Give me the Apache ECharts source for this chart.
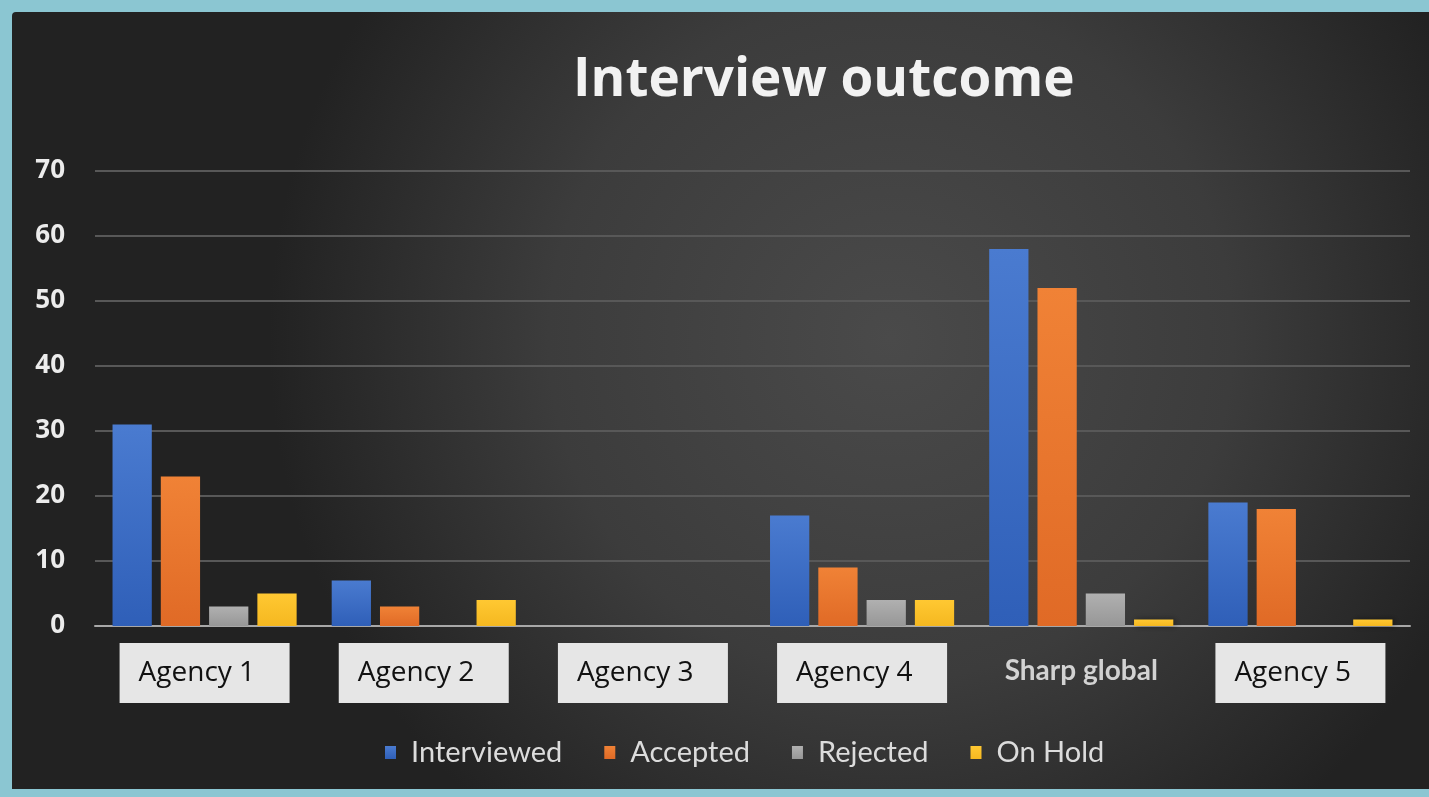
<!DOCTYPE html>
<html>
<head>
<meta charset="utf-8">
<title>Interview outcome</title>
<script src="https://cdn.jsdelivr.net/npm/echarts@6/dist/echarts.min.js"></script>
<style>
  html, body { margin: 0; padding: 0; background: #8bc6d2; }
  .frame {
    width: 1429px;
    height: 797px;
    box-sizing: border-box;
    border: 12px solid #8bc6d2;
    border-right-width: 0;
    border-bottom-width: 8px;
  }
  #chart { width: 1417px; height: 777px; border-radius: 4px 0 0 0; overflow: hidden; }
</style>
</head>
<body>
<div class="frame"><div id="chart"></div></div>
<script>
const categories = ['Agency 1', 'Agency 2', 'Agency 3', 'Agency 4', 'Sharp global', 'Agency 5']
const interviewed = [31, 7, 0, 17, 58, 19]
const accepted = [23, 3, 0, 9, 52, 18]
const rejected = [3, 0, 0, 4, 5, 0]
const onHold = [5, 4, 0, 4, 1, 1]
const yTicks = [0, 10, 20, 30, 40, 50, 60, 70]

const myChart = echarts.init(document.getElementById('chart'))

function barColor(top, bottom) {
  return new echarts.graphic.LinearGradient(0, 0, 0, 1, [
    { offset: 0, color: top },
    { offset: 1, color: bottom }
  ])
}

function makeSeries(name, data, top, bottom) {
  return {
    name: name,
    type: 'bar',
    data: data,
    barGap: '23%',
    barCategoryGap: '16%',
    itemStyle: {
      color: barColor(top, bottom),
      shadowBlur: 6,
      shadowOffsetX: 2,
      shadowColor: 'rgba(0, 0, 0, 0.45)'
    }
  }
}

const option = {
  backgroundColor: new echarts.graphic.RadialGradient(0.62, 0.42, 0.8, [
    { offset: 0, color: '#4a4a4a' },
    { offset: 0.55, color: '#3c3c3c' },
    { offset: 1, color: '#222222' }
  ]),
  title: {
    text: 'Interview outcome',
    left: 556,
    top: 37,
    textStyle: {
      fontFamily: 'Open Sans',
      fontWeight: 'bold',
      fontSize: 53,
      color: '#f2f2f2'
    }
  },
  legend: {
    top: 721,
    left: 368,
    itemWidth: 11,
    itemHeight: 13,
    itemGap: 42,
    icon: 'rect',
    textStyle: {
      fontFamily: 'Lato',
      fontSize: 29,
      color: '#dcdcdc',
      padding: [0, 0, 0, 10]
    },
    data: ['Interviewed', 'Accepted', 'Rejected', 'On Hold']
  },
  grid: {
    left: 83,
    right: 19,
    top: 159,
    bottom: 163,
    containLabel: false
  },
  xAxis: {
    type: 'category',
    data: categories,
    axisTick: { show: false },
    axisLine: { lineStyle: { color: '#a8a8a8', width: 2 } },
    axisLabel: {
      interval: 0,
      margin: 17,
      formatter(value) {
        if (value === 'Sharp global') {
          return '{plain|' + value + '}'
        }
        return '{box|' + value + '}'
      },
      rich: {
        box: {
          backgroundColor: '#e6e6e6',
          color: '#111',
          fontFamily: 'Open Sans',
          fontSize: 28,
          width: 131,
          height: 60,
          lineHeight: 60,
          padding: [0, 20, 0, 19],
          align: 'left'
        },
        plain: {
          color: '#d2d2d2',
          fontFamily: 'Lato',
          fontWeight: 'bold',
          fontSize: 28,
          height: 60,
          lineHeight: 56
        }
      }
    }
  },
  yAxis: {
    type: 'value',
    min: 0,
    max: yTicks[yTicks.length - 1],
    interval: 10,
    axisLine: { show: false },
    axisTick: { show: false },
    splitLine: { lineStyle: { color: '#585858', width: 2 } },
    axisLabel: {
      margin: 30,
      fontFamily: 'Open Sans',
      fontWeight: 'bold',
      fontSize: 26,
      color: '#ececec'
    }
  },
  series: [
    makeSeries('Interviewed', interviewed, '#4a7bd0', '#2f5fb8'),
    makeSeries('Accepted', accepted, '#f08236', '#e06a26'),
    makeSeries('Rejected', rejected, '#b0b0b0', '#979797'),
    makeSeries('On Hold', onHold, '#ffc832', '#f5b820')
  ]
}

myChart.setOption(option)
</script>
</body>
</html>
